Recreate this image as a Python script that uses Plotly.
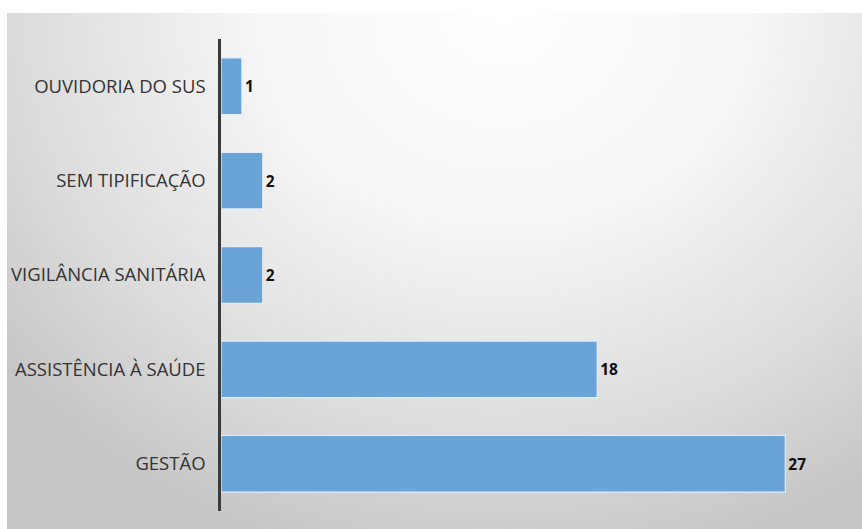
import base64
import plotly.graph_objects as go

# Complaint categories (bottom to top) and their counts
categorias = ["GESTÃO", "ASSISTÊNCIA À SAÚDE", "VIGILÂNCIA SANITÁRIA", "SEM TIPIFICAÇÃO", "OUVIDORIA DO SUS"]
quantidades = [27, 18, 2, 2, 1]

W, H = 862, 529
ML, MR, MT, MB = 221, 14, 39, 18
plot_w = W - ML - MR
plot_h = H - MT - MB

# Soft radial backdrop: light at top centre, grey towards the edges
bg_left, bg_top = 7, 13
svg = f"""<svg xmlns='http://www.w3.org/2000/svg' width='{W - bg_left}' height='{H - bg_top}'>
<defs><radialGradient id='g' cx='0.58' cy='0.0' r='0.75' gradientUnits='objectBoundingBox'
 gradientTransform='translate(0.58,0) scale(1,1.45) translate(-0.58,0)'>
<stop offset='0' stop-color='#ffffff'/>
<stop offset='0.38' stop-color='#f6f6f6'/>
<stop offset='0.75' stop-color='#dcdcdc'/>
<stop offset='1' stop-color='#c6c6c6'/>
</radialGradient></defs>
<rect width='100%' height='100%' fill='url(#g)'/>
</svg>"""
src = "data:image/svg+xml;base64," + base64.b64encode(svg.encode()).decode()

fig = go.Figure(
    go.Bar(
        x=quantidades,
        y=categorias,
        orientation="h",
        marker=dict(color="#6aa3d8", line=dict(color="#e4eef8", width=1.2)),
        text=quantidades,
        textposition="outside",
        textfont=dict(family="Open Sans, sans-serif", size=15.5, color="#111111", weight="bold"),
        cliponaxis=False,
        width=0.6,
    )
)

fig.update_layout(
    width=W,
    height=H,
    margin=dict(l=ML, r=MR, t=MT, b=MB),
    paper_bgcolor="#ffffff",
    plot_bgcolor="rgba(0,0,0,0)",
    showlegend=False,
    images=[
        dict(
            source=src,
            xref="paper",
            yref="paper",
            x=(bg_left - ML) / plot_w,
            y=(H - MB - bg_top) / plot_h,
            sizex=(W - bg_left) / plot_w,
            sizey=(H - bg_top) / plot_h,
            xanchor="left",
            yanchor="top",
            sizing="stretch",
            layer="below",
        )
    ],
    xaxis=dict(range=[0, 30], visible=False, fixedrange=True),
    yaxis=dict(
        showline=True,
        linecolor="#3a3a3a",
        linewidth=2.5,
        ticks="",
        showgrid=False,
        ticklabelstandoff=9,
        tickfont=dict(family="Open Sans, sans-serif", size=18.5, color="#333333"),
    ),
)

fig.write_html("out.html")
